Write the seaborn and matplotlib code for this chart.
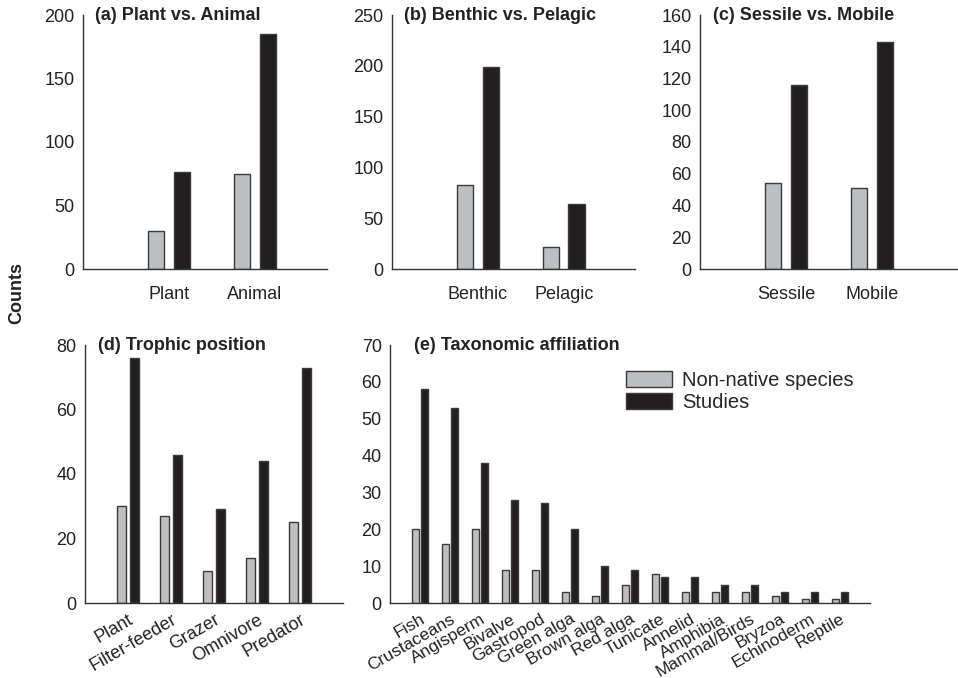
import matplotlib
matplotlib.use("Agg")
import matplotlib.pyplot as plt
from matplotlib.patches import Patch
import pandas as pd
import seaborn as sns

sns.set_style("white")
plt.rcParams["font.family"] = ["Liberation Sans", "DejaVu Sans"]

# ---- data ----
series_names = ["Non-native species", "Studies"]

plant_animal_cats = ["Plant", "Animal"]
plant_animal_species = [30, 75]
plant_animal_studies = [76, 185]

benthic_cats = ["Benthic", "Pelagic"]
benthic_species = [83, 22]
benthic_studies = [199, 64]

sessile_cats = ["Sessile", "Mobile"]
sessile_species = [54, 51]
sessile_studies = [116, 143]

trophic_cats = ["Plant", "Filter-feeder", "Grazer", "Omnivore", "Predator"]
trophic_species = [30, 27, 10, 14, 25]
trophic_studies = [76, 46, 29, 44, 73]

taxon_cats = ["Fish", "Crustaceans", "Angisperm", "Bivalve", "Gastropod",
              "Green alga", "Brown alga", "Red alga", "Tunicate", "Annelid",
              "Amphibia", "Mammal/Birds", "Bryzoa", "Echinoderm", "Reptile"]
taxon_species = [20, 16, 20, 9, 9, 3, 2, 5, 8, 3, 3, 3, 2, 1, 1]
taxon_studies = [58, 53, 38, 28, 27, 20, 10, 9, 7, 7, 5, 5, 3, 3, 3]

GREY = "#BDBEC0"
BLACK = "#231F20"
EDGE = "#3a3a3a"
palette = {series_names[0]: GREY, series_names[1]: BLACK}


def long_frame(cats, species, studies):
    return pd.DataFrame({
        "category": list(cats) * 2,
        "count": list(species) + list(studies),
        "series": [series_names[0]] * len(cats) + [series_names[1]] * len(cats),
    })


W, H = 958, 678
fig = plt.figure(figsize=(W / 100, H / 100), dpi=100)


def add_axes(left, right, top, bottom):
    return fig.add_axes([left / W, 1 - bottom / H, (right - left) / W, (bottom - top) / H])


def draw_panel(ax, cats, species, studies, title, ymax, ystep, xright,
               gap, rotate=False, xsize=13):
    df = long_frame(cats, species, studies)
    sns.barplot(data=df, x="category", y="count", hue="series", order=cats,
                hue_order=series_names, palette=palette, width=0.6, gap=gap,
                edgecolor=EDGE, linewidth=1.0, saturation=1, legend=False,
                errorbar=None, ax=ax)
    ax.set_xlim(-1, xright)
    ax.set_ylim(0, ymax)
    ax.set_yticks(range(0, ymax + 1, ystep))
    ax.set_xlabel("")
    ax.set_ylabel("")
    for side in ("top", "right"):
        ax.spines[side].set_visible(False)
    for side in ("left", "bottom"):
        ax.spines[side].set_color("#333333")
        ax.spines[side].set_linewidth(1.0)
    ax.tick_params(axis="y", length=0, labelsize=13, pad=6, labelcolor="#222222")
    ax.tick_params(axis="x", length=4, width=1, color="#333333", direction="out",
                   labelsize=xsize, labelcolor="#222222", pad=8 if not rotate else 2)
    if rotate:
        for lab in ax.get_xticklabels():
            lab.set_rotation(30)
            lab.set_ha("right")
            lab.set_rotation_mode("anchor")
    ax.text(0.05, 1.0, title, transform=ax.transAxes, fontsize=13,
            fontweight="bold", color="#222222", ha="left", va="center")


ax_a = add_axes(83, 327, 15, 269)
draw_panel(ax_a, plant_animal_cats, plant_animal_species, plant_animal_studies,
           "(a) Plant vs. Animal", 200, 50, 1.84, gap=0.37)

ax_b = add_axes(392, 635, 15, 269)
draw_panel(ax_b, benthic_cats, benthic_species, benthic_studies,
           "(b) Benthic vs. Pelagic", 250, 50, 1.83, gap=0.37)

ax_c = add_axes(700, 957, 15, 269)
draw_panel(ax_c, sessile_cats, sessile_species, sessile_studies,
           "(c) Sessile vs. Mobile", 160, 20, 1.99, gap=0.37)

ax_d = add_axes(85, 343, 345, 603)
draw_panel(ax_d, trophic_cats, trophic_species, trophic_studies,
           "(d) Trophic position", 80, 20, 5.0, gap=0.37, rotate=True)

ax_e = add_axes(390, 870, 345, 603)
draw_panel(ax_e, taxon_cats, taxon_species, taxon_studies,
           "(e) Taxonomic affiliation", 70, 10, 15.0, gap=0.33, rotate=True,
           xsize=12.5)

handles = [Patch(facecolor=palette[s], edgecolor=EDGE, linewidth=1.0, label=s)
           for s in series_names]
ax_e.legend(handles=handles, loc="upper left", bbox_to_anchor=(0.475, 0.93),
            frameon=False, fontsize=14.5, handlelength=2.3, handleheight=0.85,
            handletextpad=0.5, labelspacing=0.15, borderaxespad=0)

fig.text(17 / W, 1 - 293 / H, "Counts", rotation=90, fontsize=13,
         fontweight="bold", color="#222222", ha="center", va="center")

fig.savefig("out.png", dpi=100)
